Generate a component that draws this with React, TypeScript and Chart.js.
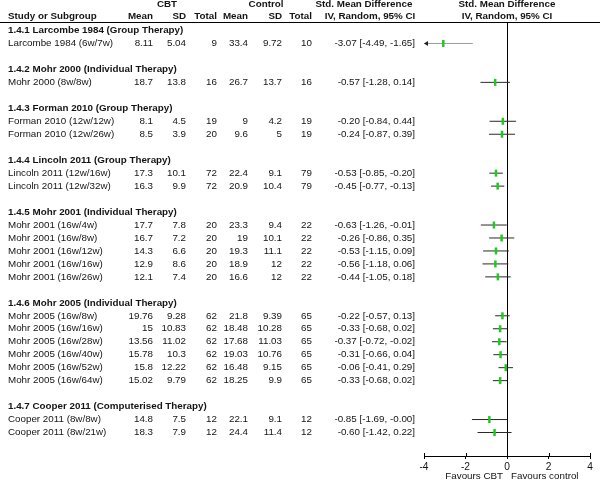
import React, { useEffect, useRef } from "react";
import { Chart, registerables } from "chart.js";

Chart.register(...registerables);

// ---------- data ----------
const subgroups = [
  "1.4.1 Larcombe 1984 (Group Therapy)",
  "1.4.2 Mohr 2000 (Individual Therapy)",
  "1.4.3 Forman 2010 (Group Therapy)",
  "1.4.4 Lincoln 2011 (Group Therapy)",
  "1.4.5 Mohr 2001 (Individual Therapy)",
  "1.4.6 Mohr 2005 (Individual Therapy)",
  "1.4.7 Cooper 2011 (Computerised Therapy)",
];
const subgroupSizes = [1, 1, 2, 2, 5, 6, 2];

const studies = [
  "Larcombe 1984 (6w/7w)",
  "Mohr 2000 (8w/8w)",
  "Forman 2010 (12w/12w)",
  "Forman 2010 (12w/26w)",
  "Lincoln 2011 (12w/16w)",
  "Lincoln 2011 (12w/32w)",
  "Mohr 2001 (16w/4w)",
  "Mohr 2001 (16w/8w)",
  "Mohr 2001 (16w/12w)",
  "Mohr 2001 (16w/16w)",
  "Mohr 2001 (16w/26w)",
  "Mohr 2005 (16w/8w)",
  "Mohr 2005 (16w/16w)",
  "Mohr 2005 (16w/28w)",
  "Mohr 2005 (16w/40w)",
  "Mohr 2005 (16w/52w)",
  "Mohr 2005 (16w/64w)",
  "Cooper 2011 (8w/8w)",
  "Cooper 2011 (8w/21w)",
];
const cbtMean = [8.11, 18.7, 8.1, 8.5, 17.3, 16.3, 17.7, 16.7, 14.3, 12.9, 12.1, 19.76, 15, 13.56, 15.78, 15.8, 15.02, 14.8, 18.3];
const cbtSD = [5.04, 13.8, 4.5, 3.9, 10.1, 9.9, 7.8, 7.2, 6.6, 8.6, 7.4, 9.28, 10.83, 11.02, 10.3, 12.22, 9.79, 7.5, 7.9];
const cbtTotal = [9, 16, 19, 20, 72, 72, 20, 20, 20, 20, 20, 62, 62, 62, 62, 62, 62, 12, 12];
const ctrlMean = [33.4, 26.7, 9, 9.6, 22.4, 20.9, 23.3, 19, 19.3, 18.9, 16.6, 21.8, 18.48, 17.68, 19.03, 16.48, 18.25, 22.1, 24.4];
const ctrlSD = [9.72, 13.7, 4.2, 5, 9.1, 10.4, 9.4, 10.1, 11.1, 12, 12, 9.39, 10.28, 11.03, 10.76, 9.15, 9.9, 9.1, 11.4];
const ctrlTotal = [10, 16, 19, 19, 79, 79, 22, 22, 22, 22, 22, 65, 65, 65, 65, 65, 65, 12, 12];
const smd = [-3.07, -0.57, -0.2, -0.24, -0.53, -0.45, -0.63, -0.26, -0.53, -0.56, -0.44, -0.22, -0.33, -0.37, -0.31, -0.06, -0.33, -0.85, -0.6];
const ciLow = [-4.49, -1.28, -0.84, -0.87, -0.85, -0.77, -1.26, -0.86, -1.15, -1.18, -1.05, -0.57, -0.68, -0.72, -0.66, -0.41, -0.68, -1.69, -1.42];
const ciHigh = [-1.65, 0.14, 0.44, 0.39, -0.2, -0.13, -0.01, 0.35, 0.09, 0.06, 0.18, 0.13, 0.02, -0.02, 0.04, 0.29, 0.02, -0, 0.22];
const xTicks = [-4, -2, 0, 2, 4];

// ---------- style ----------
const FONT = '"Liberation Sans", Arial, Helvetica, sans-serif';
const FS = 9.8;
const TEXT = "#141414";
const GREEN = "#1ccc1c";

// row layout: subgroup header, its studies, blank line
const groupRows: number[] = [];
const studyRows: number[] = [];
{
  let r = 0;
  subgroupSizes.forEach((n) => {
    groupRows.push(r);
    r += 1;
    for (let i = 0; i < n; i++) {
      studyRows.push(r);
      r += 1;
    }
    r += 1;
  });
}
const lastRow = studyRows[studyRows.length - 1];

const fmt = (v: number) =>
  (v < 0 || Object.is(v, -0) ? "-" : "") + Math.abs(v).toFixed(2);

// column anchors (right edges unless noted)
const COL = {
  study: 8,
  m1: 153,
  sd1: 186,
  t1: 217,
  m2: 248,
  sd2: 282,
  t2: 312,
  ci: 415,
};

const tablePlugin = {
  id: "forestTable",
  afterDraw(chart: any) {
    const { ctx, chartArea } = chart;
    const xs = chart.scales.x;
    const ys = chart.scales.y;
    const top = chartArea.top;
    ctx.save();
    ctx.fillStyle = TEXT;
    ctx.textBaseline = "middle";
    const bold = `bold ${FS}px ${FONT}`;
    const reg = `${FS}px ${FONT}`;
    const put = (t: string, x: number, y: number, align: CanvasTextAlign, f: string) => {
      ctx.font = f;
      ctx.textAlign = align;
      ctx.fillText(t, x, y);
    };

    // header line
    ctx.strokeStyle = "#000";
    ctx.lineWidth = 1;
    ctx.beginPath();
    ctx.moveTo(0, top + 0.5);
    ctx.lineTo(chart.width, top + 0.5);
    ctx.stroke();

    const h1 = top - 17.5;
    const h2 = top - 5.5;
    const zero = xs.getPixelForValue(0);
    put("CBT", 167, h1, "center", bold);
    put("Control", 266, h1, "center", bold);
    put("Std. Mean Difference", 364, h1, "center", bold);
    put("Std. Mean Difference", zero, h1, "center", bold);
    put("Study or Subgroup", COL.study, h2, "left", bold);
    put("Mean", COL.m1, h2, "right", bold);
    put("SD", COL.sd1, h2, "right", bold);
    put("Total", COL.t1, h2, "right", bold);
    put("Mean", COL.m2, h2, "right", bold);
    put("SD", COL.sd2, h2, "right", bold);
    put("Total", COL.t2, h2, "right", bold);
    put("IV, Random, 95% CI", 370, h2, "center", bold);
    put("IV, Random, 95% CI", zero, h2, "center", bold);

    subgroups.forEach((g, i) => {
      put(g, COL.study, ys.getPixelForValue(groupRows[i]), "left", bold);
    });
    studies.forEach((s, i) => {
      const y = ys.getPixelForValue(studyRows[i]);
      put(s, COL.study, y, "left", reg);
      put(String(cbtMean[i]), COL.m1, y, "right", reg);
      put(String(cbtSD[i]), COL.sd1, y, "right", reg);
      put(String(cbtTotal[i]), COL.t1, y, "right", reg);
      put(String(ctrlMean[i]), COL.m2, y, "right", reg);
      put(String(ctrlSD[i]), COL.sd2, y, "right", reg);
      put(String(ctrlTotal[i]), COL.t2, y, "right", reg);
      put(`${fmt(smd[i])} [${fmt(ciLow[i])}, ${fmt(ciHigh[i])}]`, COL.ci, y, "right", reg);

      // arrow when CI leaves the axis range
      if (ciLow[i] < xs.min) {
        const ax = xs.left;
        ctx.fillStyle = "#222";
        ctx.beginPath();
        ctx.moveTo(ax, y);
        ctx.lineTo(ax + 4, y - 2.5);
        ctx.lineTo(ax + 4, y + 2.5);
        ctx.closePath();
        ctx.fill();
        ctx.fillStyle = TEXT;
      }
    });

    // tick marks crossing the axis (upward part)
    ctx.strokeStyle = "#000";
    ctx.beginPath();
    xTicks.forEach((t) => {
      const px = Math.round(xs.getPixelForValue(t)) + 0.5;
      ctx.moveTo(px, chartArea.bottom);
      ctx.lineTo(px, chartArea.bottom - 3);
    });
    ctx.stroke();

    const fy = chartArea.bottom + 20;
    put("Favours CBT", zero - 4, fy, "right", reg);
    put("Favours control", zero + 4, fy, "left", reg);
    ctx.restore();
  },
};

export default function App() {
  const ref = useRef<HTMLCanvasElement | null>(null);
  useEffect(() => {
    if (!ref.current) return;
    const rowPx = (432.5 - 30.5) / lastRow;
    const top = 22;
    const bottom = 456;
    const yMin = -(30.5 - top) / rowPx;
    const yMax = lastRow + (bottom - 432.5) / rowPx;

    const ciSets = studies.map((s, i) => ({
      type: "line" as const,
      label: s,
      data: [
        { x: ciLow[i], y: studyRows[i] },
        { x: ciHigh[i], y: studyRows[i] },
      ],
      borderColor: ciLow[i] < xTicks[0] ? "#9a9a9a" : "#2a2a2a",
      borderWidth: 1,
      pointRadius: 0,
      showLine: true,
      order: 2,
    }));

    const chart = new Chart(ref.current, {
      type: "scatter",
      data: {
        datasets: [
          {
            label: "SMD",
            data: smd.map((v, i) => ({ x: v, y: studyRows[i] })),
            pointStyle: "line",
            rotation: 90,
            radius: 3.5,
            borderColor: GREEN,
            backgroundColor: GREEN,
            borderWidth: 2.5,
            order: 1,
          } as any,
          ...ciSets,
        ],
      },
      options: {
        responsive: false,
        animation: false,
        events: [],
        layout: { padding: { left: 424, right: 10, top: 22, bottom: 4 } },
        plugins: {
          legend: { display: false },
          tooltip: { enabled: false },
          title: { display: false },
        },
        scales: {
          x: {
            type: "linear",
            min: xTicks[0],
            max: xTicks[xTicks.length - 1],
            afterFit: (s: any) => {
              s.height = 20;
            },
            afterBuildTicks: (s: any) => {
              s.ticks = xTicks.map((v) => ({ value: v }));
            },
            ticks: {
              color: TEXT,
              font: { family: FONT, size: 10.2 },
              padding: 2,
              maxRotation: 0,
              autoSkip: false,
            },
            grid: {
              color: (c: any) => (c.tick && c.tick.value === 0 ? "#000" : "rgba(0,0,0,0)"),
              tickColor: "#000",
              tickLength: 3,
              lineWidth: 1,
            },
            border: { display: true, color: "#000", width: 1 },
          },
          y: {
            type: "linear",
            reverse: true,
            min: yMin,
            max: yMax,
            display: false,
          },
        },
      },
      plugins: [tablePlugin],
    } as any);
    return () => chart.destroy();
  }, []);

  return (
    <canvas
      ref={ref}
      width={600}
      height={480}
      style={{ position: "fixed", left: 0, top: 0, width: 600, height: 480, background: "#fff" }}
    />
  );
}
